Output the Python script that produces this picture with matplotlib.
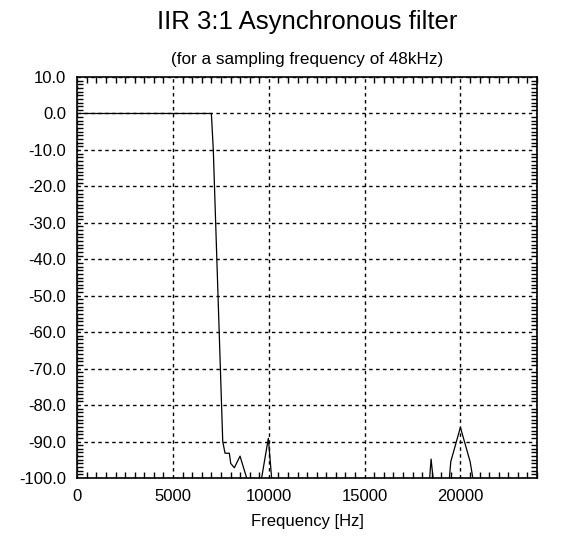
import matplotlib.pyplot as plt
from matplotlib.ticker import MultipleLocator

plt.rcParams['font.family'] = ['Liberation Sans', 'DejaVu Sans']

# frequency response (values under -100 get clipped)
freq_hz = [0, 1000, 2000, 3000, 4000, 5000, 6000, 7000, 7100, 7593,
           7713, 7937, 8010, 8198, 8496, 8900, 9590, 9974, 10160,
           18380, 18470, 18590, 19410, 19498, 20000, 20507, 20680]
gain_db = [0, 0, 0, 0, 0, 0, 0, 0, -10, -90,
           -93.2, -93.2, -96, -97.2, -94, -101, -101, -89.1, -101,
           -101, -94.8, -101, -101, -95.5, -86.1, -95.5, -101]

xticks = [0, 5000, 10000, 15000, 20000]
yticks = [10, 0, -10, -20, -30, -40, -50, -60, -70, -80, -90, -100]

fig = plt.figure(figsize=(5.79, 5.36), dpi=100)
ax = fig.add_axes([0.1335, 0.1082, 0.794, 0.7481])

ax.plot(freq_hz, gain_db, color='black', linewidth=0.9)

ax.set_xlim(0, 24000)
ax.set_ylim(-100, 10)
ax.set_xticks(xticks)
ax.set_yticks(yticks)
ax.set_yticklabels([f"{v:.1f}" for v in yticks])
ax.xaxis.set_minor_locator(MultipleLocator(500))
ax.yaxis.set_minor_locator(MultipleLocator(1))
ax.tick_params(which='both', direction='in', top=True, right=True,
               labelsize=12, width=1)
ax.tick_params(which='major', length=0)
ax.tick_params(which='minor', length=4)
ax.tick_params(axis='y', pad=8)
ax.tick_params(axis='x', pad=8)
ax.grid(True, which='major', color='black', linestyle=(0, (2.5, 2.5)), linewidth=1)
for s in ax.spines.values():
    s.set_linewidth(1.2)

ax.set_xlabel("Frequency [Hz]", fontsize=12, labelpad=7)
fig.text(0.53, 0.946, "IIR 3:1 Asynchronous filter", ha='center', fontsize=18.5)
fig.text(0.53, 0.88, "(for a sampling frequency of 48kHz)", ha='center', fontsize=12.3)

fig.savefig("out.png", dpi=100)
